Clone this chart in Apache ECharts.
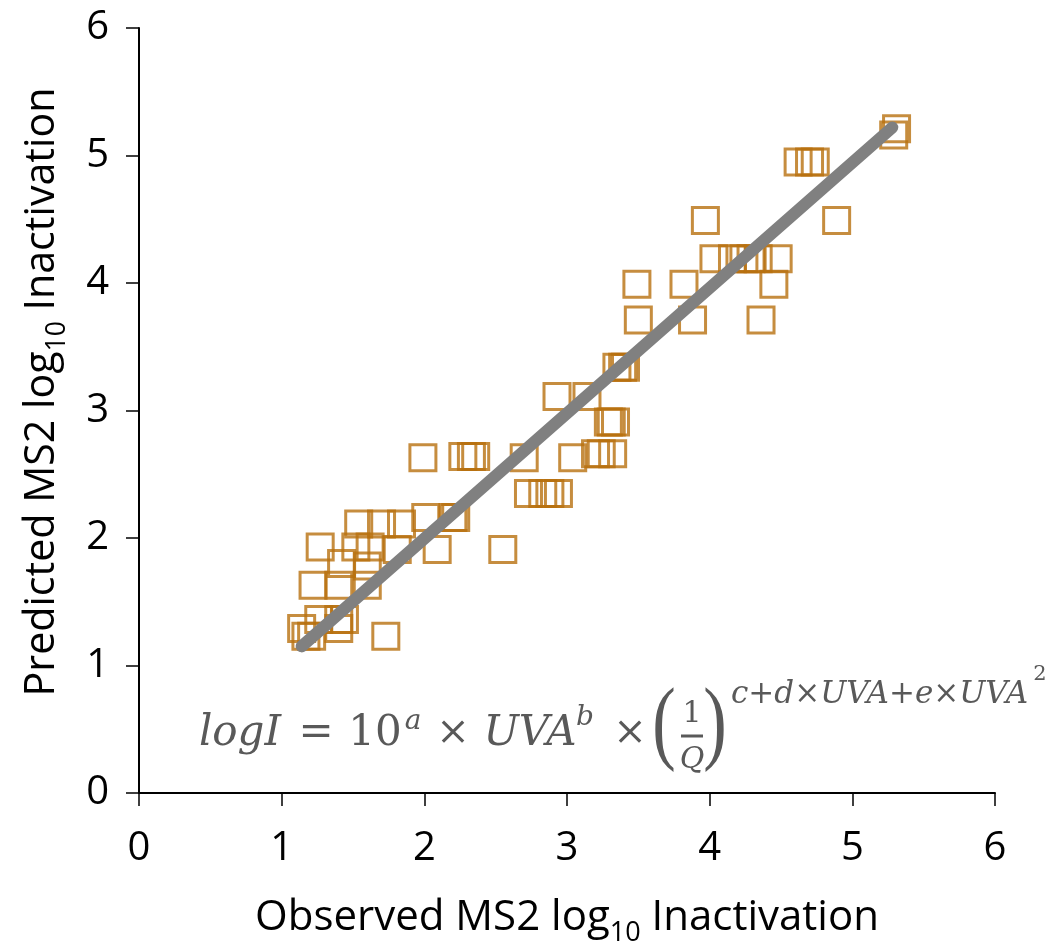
<!DOCTYPE html>
<html>
<head>
<meta charset="utf-8">
<script src="https://cdn.jsdelivr.net/npm/echarts@6/dist/echarts.min.js"></script>
<style>
  html, body { margin: 0; padding: 0; background: #ffffff; }
  #chart { width: 1053px; height: 949px; }
</style>
</head>
<body>
<div id="chart"></div>
<script>
// Observed vs. predicted MS2 log10 inactivation
const observed = [
  1.14, 1.17, 1.21, 1.26, 1.40, 1.44, 1.40, 1.73,
  1.22, 1.40, 1.60,
  1.42, 1.60,
  1.27, 1.52, 1.62, 1.81, 2.09, 2.55,
  1.54, 1.70, 1.84,
  2.01, 2.20, 2.22,
  2.73, 2.83, 2.88, 2.94,
  1.99, 2.27, 2.33, 2.36, 2.70, 3.04,
  3.20, 3.24, 3.32,
  3.29, 3.31, 3.34,
  2.93, 3.14,
  3.35, 3.39, 3.41,
  3.50, 3.88, 4.36,
  3.49, 3.82, 4.45,
  4.03, 4.16, 4.24, 4.29, 4.34, 4.48,
  3.97, 4.89,
  4.62, 4.70, 4.74,
  5.29, 5.31
];
const predicted = [
  1.29, 1.23, 1.23, 1.36, 1.36, 1.36, 1.29, 1.23,
  1.63, 1.63, 1.63,
  1.80, 1.78,
  1.93, 1.93, 1.93, 1.91, 1.91, 1.91,
  2.11, 2.11, 2.11,
  2.16, 2.16, 2.16,
  2.35, 2.35, 2.35, 2.35,
  2.63, 2.64, 2.64, 2.64, 2.63, 2.63,
  2.66, 2.66, 2.66,
  2.91, 2.91, 2.91,
  3.11, 3.11,
  3.34, 3.34, 3.34,
  3.71, 3.71, 3.71,
  3.99, 3.99, 3.99,
  4.19, 4.19, 4.19, 4.19, 4.19, 4.19,
  4.49, 4.49,
  4.95, 4.95, 4.95,
  5.16, 5.21
];
// Fitted line end points (observed, predicted)
const fitX = [1.14, 5.28];
const fitY = [1.15, 5.22];
const axisTicks = [0, 1, 2, 3, 4, 5, 6];

const points = observed.map((x, i) => [x, predicted[i]]);
const fitLine = fitX.map((x, i) => [x, fitY[i]]);

const chart = echarts.init(document.getElementById('chart'), null, { renderer: 'canvas' });

const tickFont = { fontFamily: 'Open Sans', fontSize: 40, color: '#000000' };
const eqColor = '#595959';
const eqFont = 'DejaVu Serif';

function eqText(text, x, y, size, opts) {
  opts = opts || {};
  return {
    type: 'text',
    x: x, y: y,
    z: 10,
    scaleX: opts.scaleX || 1,
    style: {
      text: text,
      fill: eqColor,
      font: (opts.italic === false ? '' : 'italic ') + size + 'px "' + (opts.family || eqFont) + '"',
      align: opts.align || 'center',
      verticalAlign: 'middle'
    }
  };
}

const titleRich = {
  a: { fontFamily: 'Open Sans', fontSize: 42, fill: '#000000', lineHeight: 50 },
  s: { fontFamily: 'Open Sans', fontSize: 27, fill: '#000000', lineHeight: 27, padding: [30, 0, 0, 0] }
};

const option = {
  backgroundColor: '#ffffff',
  animation: false,
  grid: { left: 139, right: 58, top: 28, bottom: 156, containLabel: false },
  xAxis: {
    type: 'value', min: axisTicks[0], max: axisTicks[axisTicks.length - 1], interval: 1,
    axisLine: { show: true, onZero: false, lineStyle: { color: '#000000', width: 2 } },
    axisTick: { show: true, inside: false, length: 13, lineStyle: { color: '#000000', width: 1.5 } },
    axisLabel: Object.assign({ margin: 36 }, tickFont),
    splitLine: { show: false }
  },
  yAxis: {
    type: 'value', min: axisTicks[0], max: axisTicks[axisTicks.length - 1], interval: 1,
    axisLine: { show: true, onZero: false, lineStyle: { color: '#000000', width: 2 } },
    axisTick: { show: true, inside: false, length: 13, lineStyle: { color: '#000000', width: 1.5 } },
    axisLabel: Object.assign({ margin: 30 }, tickFont),
    splitLine: { show: false }
  },
  series: [
    {
      type: 'scatter',
      data: points,
      symbol: 'rect',
      symbolSize: 26,
      itemStyle: { color: 'rgba(255,255,255,0)', borderColor: '#B8700F', borderWidth: 3 },
      z: 2
    },
    {
      type: 'line',
      data: fitLine,
      symbol: 'none',
      lineStyle: { color: '#808080', width: 12, cap: 'round' },
      z: 3
    }
  ],
  graphic: [
    // axis titles
    {
      type: 'text', x: 567, y: 918, scaleX: 1.0, z: 10,
      style: {
        text: '{a|Observed MS2 log}{s|10}{a| Inactivation}',
        align: 'center', verticalAlign: 'middle',
        rich: titleRich
      }
    },
    {
      type: 'text', x: 42, y: 392, rotation: Math.PI / 2, scaleX: 0.98, z: 10,
      style: {
        text: '{a|Predicted MS2 log}{s|10}{a| Inactivation}',
        align: 'center', verticalAlign: 'middle',
        rich: titleRich
      }
    },
    // model equation
    eqText('logI', 240, 734, 42),
    eqText('=', 316, 734, 42, { italic: false }),
    eqText('10', 375, 734, 42, { italic: false }),
    eqText('a', 413, 722, 28),
    eqText('\u00d7', 453, 734, 40, { italic: false }),
    eqText('UVA', 530, 734, 42),
    eqText('b', 585, 718, 28),
    eqText('\u00d7', 630, 734, 40, { italic: false }),
    eqText('(', 664, 727, 94, { italic: false, family: 'Liberation Serif', scaleX: 0.75 }),
    eqText(')', 715, 727, 94, { italic: false, family: 'Liberation Serif', scaleX: 0.75 }),
    eqText('1', 692, 714, 30, { italic: false }),
    {
      type: 'line', z: 10,
      shape: { x1: 681, y1: 736, x2: 703, y2: 736 },
      style: { stroke: eqColor, lineWidth: 3 }
    },
    eqText('Q', 692, 760, 30),
    eqText('c+d\u00d7UVA+e\u00d7UVA', 731, 695, 31, { align: 'left' }),
    eqText('2', 1040, 675, 21, { italic: false })
  ]
};

chart.setOption(option);
</script>
</body>
</html>
